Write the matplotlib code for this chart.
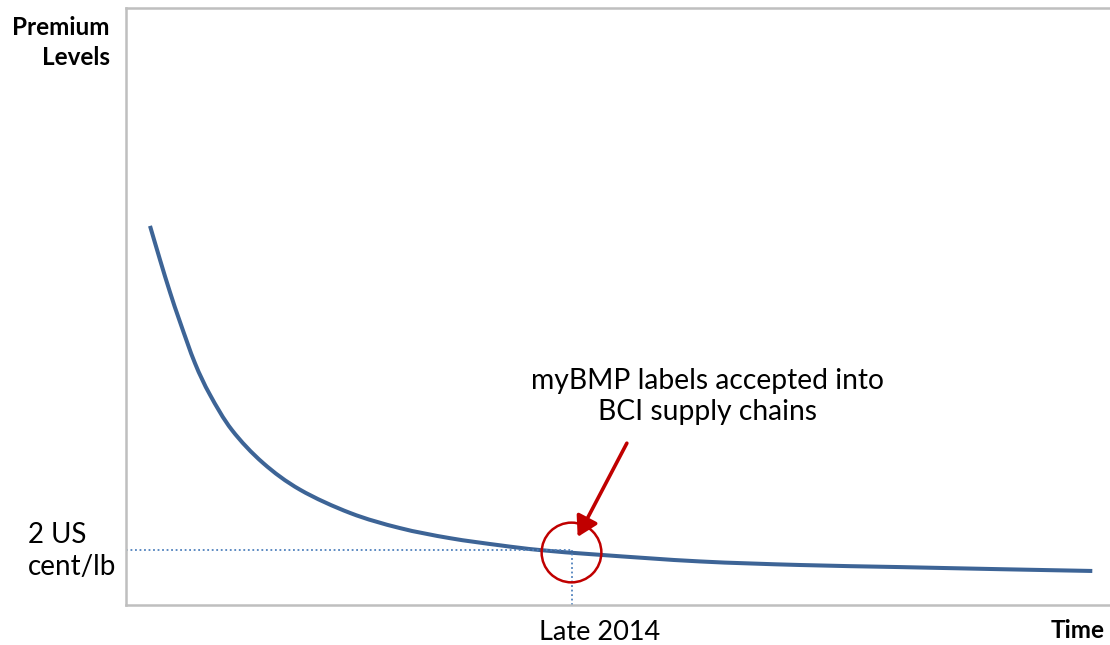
import matplotlib.pyplot as plt
from matplotlib.path import Path
from matplotlib.patches import PathPatch

time_pts = [2.44, 3.46, 4.47, 5.49, 7.01, 8.54, 10.77, 13.92, 17.7, 22.8,
            27.8, 32.9, 38.0, 42.1, 48.2, 58.3, 68.5, 78.7, 88.8, 98.2]
level_pts = [63.5, 57.8, 52.4, 47.4, 40.5, 35.2, 29.3, 23.8, 19.3, 15.4,
             12.9, 11.2, 10.0, 9.2, 8.4, 7.3, 6.7, 6.35, 6.0, 5.7]

threshold_level = 9.2      # 2 US cent/lb
late_2014 = 45.3
circle_x, circle_y = 45.2, 8.8


def smooth_path(xs, ys, tension=1 / 6):
    # Catmull-Rom style bezier through every point, like a smoothed chart line
    pts = list(zip(xs, ys))
    verts = [pts[0]]
    codes = [Path.MOVETO]
    for i in range(len(pts) - 1):
        p0 = pts[i - 1] if i > 0 else pts[i]
        p1 = pts[i]
        p2 = pts[i + 1]
        p3 = pts[i + 2] if i + 2 < len(pts) else pts[i + 1]
        c1 = (p1[0] + (p2[0] - p0[0]) * tension, p1[1] + (p2[1] - p0[1]) * tension)
        c2 = (p2[0] - (p3[0] - p1[0]) * tension, p2[1] - (p3[1] - p1[1]) * tension)
        verts += [c1, c2, p2]
        codes += [Path.CURVE4] * 3
    return Path(verts, codes)


plt.rcParams['font.family'] = ['Lato', 'DejaVu Sans']

fig = plt.figure(figsize=(11.1, 6.45), dpi=100)
ax = fig.add_axes([126 / 1110, 40 / 645, 984 / 1110, 597 / 645])
ax.set_xlim(0, 100)
ax.set_ylim(0, 100)

for side in ['left', 'bottom', 'top']:
    ax.spines[side].set_color('#BFBFBF')
    ax.spines[side].set_linewidth(1.8)
ax.spines['right'].set_visible(False)
ax.set_xticks([])
ax.set_yticks([])

# dotted guides to the 2 US cent level and late 2014
ax.plot([0, late_2014], [threshold_level, threshold_level], ls=(0, (1, 1.5)),
        color='#4F81BD', lw=1.3)
ax.plot([late_2014, late_2014], [0, threshold_level], ls=(0, (1, 1.5)),
        color='#4F81BD', lw=1.3)

ax.add_patch(PathPatch(smooth_path(time_pts, level_pts), fc='none',
                       ec='#3D6496', lw=2.9, capstyle='butt'))

ax.plot([circle_x], [circle_y], marker='o', ms=43, mfc='none',
        mec='#C00000', mew=1.8)

ax.annotate('', xy=(45.9, 11.4), xytext=(50.9, 27.1),
            arrowprops=dict(arrowstyle='-|>,head_length=1.2,head_width=0.7',
                            color='#C00000', lw=2.6, shrinkA=0, shrinkB=0))

ax.text(59.1, 35.0, 'myBMP labels accepted into\nBCI supply chains',
        ha='center', va='center', fontsize=20.3, linespacing=1.24)

fig.text(110 / 1110, 1 - 42.5 / 645, 'Premium\nLevels', ha='right', va='center',
         fontsize=17.5, fontweight='bold', linespacing=1.4)
fig.text(28 / 1110, 1 - 551 / 645, '2 US\ncent/lb', ha='left', va='center',
         fontsize=20, linespacing=1.24)
fig.text(600 / 1110, 1 - 632 / 645, 'Late 2014', ha='center', va='center',
         fontsize=19.5)
fig.text(1105 / 1110, 1 - 630 / 645, 'Time', ha='right', va='center',
         fontsize=17.5, fontweight='bold')

fig.savefig('out.png', dpi=100)
